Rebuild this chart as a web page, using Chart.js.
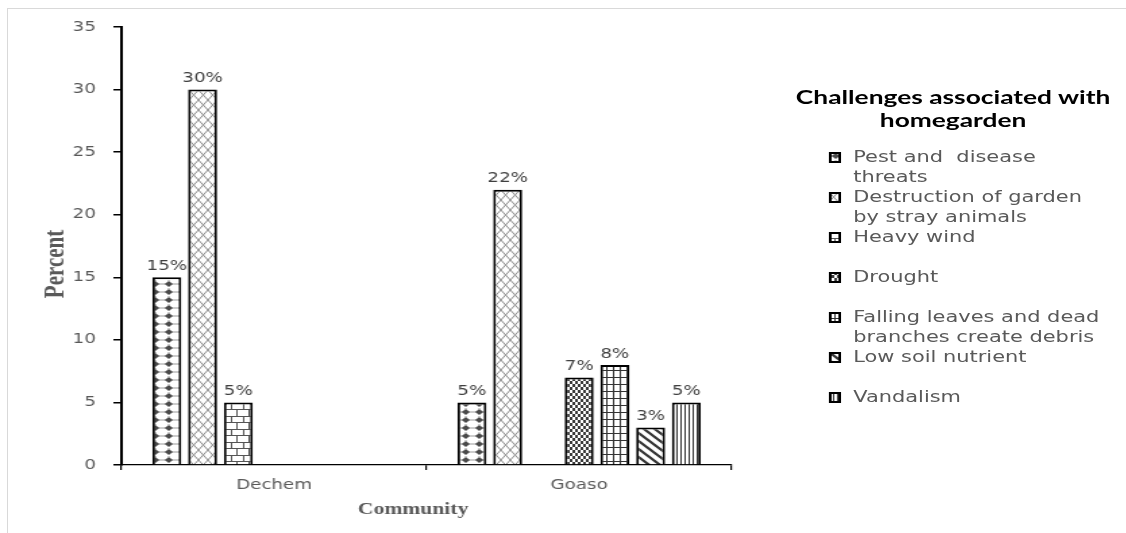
<!DOCTYPE html>
<html>
<head>
<meta charset="utf-8">
<script src="https://cdn.jsdelivr.net/npm/chart.js@4/dist/chart.umd.min.js"></script>
<style>
  html, body { margin: 0; padding: 0; background: #fff; }
  #page { position: relative; width: 1126px; height: 533px; overflow: hidden; background: #fff; }
  #frame { position: absolute; left: 7px; top: 8px; width: 1300px; height: 700px;
           border-left: 1px solid #d9d9d9; border-top: 1px solid #d9d9d9; }
  /* the whole figure is laid out on a narrower stage and widened horizontally */
  #stage { position: absolute; left: 0; top: 0; width: 834px; height: 533px;
           transform: scaleX(1.35); transform-origin: 0 0; }
  #chart { position: absolute; left: 0; top: 0; }
  #legend { position: absolute; left: 0; top: 0; width: 834px; height: 533px; }
  .lg-title { position: absolute; left: 556px; top: 85px; width: 300px; text-align: center;
              font: bold 19.5px Lato, "Open Sans", sans-serif; line-height: 23px; color: #000; }
  .lg-item { position: absolute; left: 614px; height: 40px; width: 220px; }
  .lg-item canvas { position: absolute; left: 0; top: 5px; }
  .lg-text { position: absolute; left: 18px; top: 0; width: 186px; white-space: pre-wrap;
             font: 15.5px "DejaVu Sans", sans-serif; line-height: 20px; color: #595959; }
</style>
</head>
<body>
<div id="page">
  <div id="frame"></div>
  <div id="stage">
    <canvas id="chart" width="834" height="533"></canvas>
    <div id="legend"></div>
  </div>
</div>
<script>
// Communities surveyed
const categories = ['Dechem', 'Goaso'];

// Challenge categories (legend order)
const challengeLabels = [
  'Pest and  disease threats',
  'Destruction of garden by stray animals',
  'Heavy wind',
  'Drought',
  'Falling leaves and dead branches create debris',
  'Low soil nutrient',
  'Vandalism'
];

// Percent of respondents per community
const pestDisease     = [15, 5];
const strayAnimals    = [30, 22];
const heavyWind       = [5, null];
const drought         = [null, 7];
const fallingDebris   = [null, 8];
const lowSoilNutrient = [null, 3];
const vandalism       = [null, 5];

const yTickValues = [0, 5, 10, 15, 20, 25, 30, 35];
const legendTitle = ['Challenges associated with', 'homegarden'];
const xTitle = 'Community';
const yTitle = 'Percent';

// ---- hatch fills ----
function tile(w, h, draw) {
  const c = document.createElement('canvas');
  c.width = w; c.height = h;
  const g = c.getContext('2d');
  g.fillStyle = '#fff';
  g.fillRect(0, 0, w, h);
  draw(g, w, h);
  return c;
}
const hatchTiles = [
  // dotted diamonds
  tile(10, 8, g => {
    g.fillStyle = '#9a9a9a';
    g.fillRect(0, 3.5, 10, 1);
    g.fillRect(4.5, 0, 1, 1);
    g.fillStyle = '#4a4a4a';
    g.beginPath();
    g.moveTo(5, 1); g.lineTo(8, 4); g.lineTo(5, 7); g.lineTo(2, 4); g.closePath();
    g.fill();
  }),
  // open diamond trellis
  tile(7, 10, g => {
    g.strokeStyle = '#8a8a8a'; g.lineWidth = 1;
    g.beginPath();
    g.moveTo(0, 0); g.lineTo(7, 10);
    g.moveTo(7, 0); g.lineTo(0, 10);
    g.stroke();
  }),
  // brick
  tile(9, 13, g => {
    g.strokeStyle = '#555'; g.lineWidth = 1;
    g.beginPath();
    g.moveTo(0, 0.5); g.lineTo(9, 0.5);
    g.moveTo(0, 6.5); g.lineTo(9, 6.5);
    g.moveTo(0.5, 0.5); g.lineTo(0.5, 6.5);
    g.moveTo(4.5, 6.5); g.lineTo(4.5, 13);
    g.stroke();
  }),
  // small checkerboard
  tile(4, 6, g => {
    g.fillStyle = '#3a3a3a';
    g.fillRect(0, 0, 2, 3);
    g.fillRect(2, 3, 2, 3);
  }),
  // grid
  tile(5, 7, g => {
    g.strokeStyle = '#333'; g.lineWidth = 1;
    g.beginPath();
    g.moveTo(4.5, 0); g.lineTo(4.5, 7);
    g.moveTo(0, 6.5); g.lineTo(5, 6.5);
    g.stroke();
  }),
  // wide downward diagonal
  tile(8, 8, g => {
    g.strokeStyle = '#333'; g.lineWidth = 2.2;
    g.beginPath();
    g.moveTo(-2, -2); g.lineTo(10, 10);
    g.moveTo(-2, 6); g.lineTo(2, 10);
    g.moveTo(6, -2); g.lineTo(10, 2);
    g.stroke();
  }),
  // narrow vertical
  tile(3, 4, g => {
    g.fillStyle = '#333';
    g.fillRect(0, 0, 1, 4);
  })
];

const canvas = document.getElementById('chart');
const ctx = canvas.getContext('2d');
const fills = hatchTiles.map(t => ctx.createPattern(t, 'repeat'));

const seriesValues = [pestDisease, strayAnimals, heavyWind, drought, fallingDebris, lowSoilNutrient, vandalism];

const datasets = seriesValues.map((vals, i) => ({
  label: challengeLabels[i],
  data: vals,
  backgroundColor: fills[i],
  borderColor: '#000',
  borderWidth: 2,
  borderSkipped: 'bottom',
  barPercentage: 0.81,
  categoryPercentage: 0.82
}));

// percentage labels above each bar
const valueLabels = {
  id: 'valueLabels',
  afterDatasetsDraw(chart) {
    const c = chart.ctx;
    c.save();
    c.font = '13.5px "DejaVu Sans"';
    c.fillStyle = '#404040';
    c.textAlign = 'center';
    c.textBaseline = 'bottom';
    chart.data.datasets.forEach((ds, di) => {
      const meta = chart.getDatasetMeta(di);
      meta.data.forEach((el, j) => {
        const v = ds.data[j];
        if (v === null || v === undefined) return;
        c.fillText(v + '%', el.x, el.y - 4);
      });
    });
    c.restore();
  }
};

// axis titles
const axisTitles = {
  id: 'axisTitles',
  afterDraw(chart) {
    const c = chart.ctx;
    const a = chart.chartArea;
    c.save();
    c.fillStyle = '#595959';
    c.textAlign = 'center';
    c.textBaseline = 'middle';
    c.font = 'bold 21px "Liberation Serif"';
    c.translate(a.left - 48, (a.top + a.bottom) / 2 + 18);
    c.rotate(-Math.PI / 2);
    c.fillText(yTitle, 0, 0);
    c.restore();
    c.save();
    c.fillStyle = '#595959';
    c.textAlign = 'center';
    c.textBaseline = 'middle';
    c.font = 'bold 16px "Liberation Serif"';
    c.fillText(xTitle, (a.left + a.right) / 2 - 10, a.bottom + 45);
    c.restore();
  }
};

new Chart(ctx, {
  type: 'bar',
  data: { labels: categories, datasets },
  options: {
    responsive: false,
    animation: false,
    layout: { padding: { left: 0, right: 292, top: 27, bottom: 0 } },
    plugins: { legend: { display: false }, tooltip: { enabled: false } },
    scales: {
      x: {
        offset: true,
        grid: { offset: true, drawOnChartArea: false, tickLength: 5, color: '#000', lineWidth: 1.2 },
        border: { color: '#000', width: 1.2 },
        ticks: { color: '#595959', font: { family: 'DejaVu Sans', size: 13.5 }, padding: 7 },
        afterFit(scale) { scale.height = 68; }
      },
      y: {
        min: yTickValues[0],
        max: yTickValues[yTickValues.length - 1],
        afterBuildTicks(scale) { scale.ticks = yTickValues.map(v => ({ value: v })); },
        grid: { drawOnChartArea: false, tickLength: 6, color: '#000', lineWidth: 1.5 },
        border: { color: '#000', width: 2 },
        ticks: { color: '#595959', font: { family: 'DejaVu Sans', size: 13.5 }, padding: 13 },
        afterFit(scale) { scale.width = 90; }
      }
    }
  },
  plugins: [valueLabels, axisTitles]
});

// legend panel
const legend = document.getElementById('legend');
const title = document.createElement('div');
title.className = 'lg-title';
title.textContent = legendTitle.join('\n');
title.style.whiteSpace = 'pre';
legend.appendChild(title);

challengeLabels.forEach((label, i) => {
  const item = document.createElement('div');
  item.className = 'lg-item';
  item.style.top = (147 + 40 * i) + 'px';
  const sw = document.createElement('canvas');
  sw.width = 9; sw.height = 11;
  const g = sw.getContext('2d');
  g.fillStyle = g.createPattern(hatchTiles[i], 'repeat');
  g.fillRect(0, 0, 9, 11);
  g.strokeStyle = '#000';
  g.lineWidth = 2;
  g.strokeRect(1, 1, 7, 9);
  item.appendChild(sw);
  const txt = document.createElement('div');
  txt.className = 'lg-text';
  txt.textContent = label;
  item.appendChild(txt);
  legend.appendChild(item);
});
</script>
</body>
</html>
